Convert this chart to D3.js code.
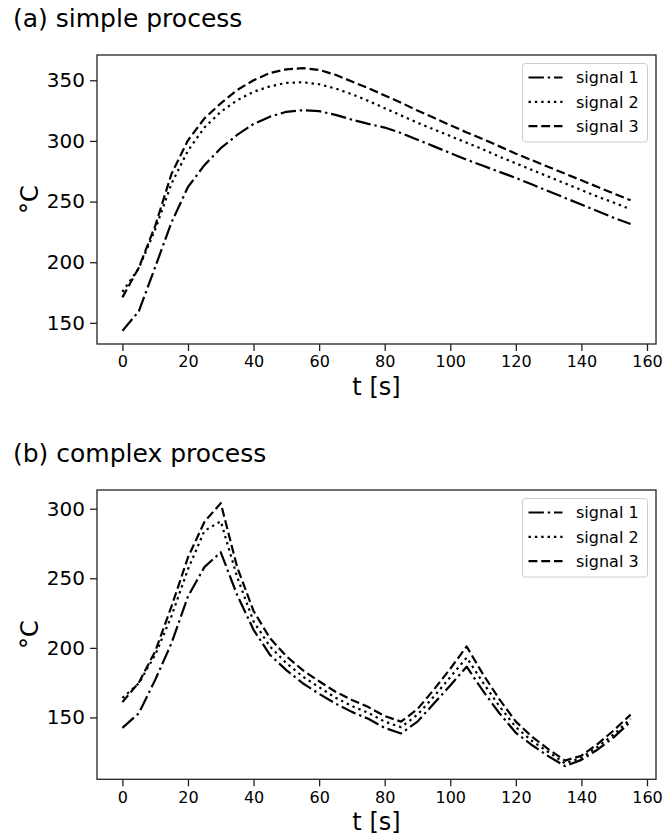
<!DOCTYPE html>
<html><head><meta charset="utf-8">
<script src="https://cdn.jsdelivr.net/npm/d3@7"></script>
<style>
html,body{margin:0;padding:0;background:#fff;}
svg{display:block;font-family:"DejaVu Sans",sans-serif;}
</style></head>
<body>
<svg id="chart" width="664" height="838"></svg>
<script>
// ---- data ----
const time = [0,5,10,15,20,25,30,35,40,45,50,55,60,65,70,75,80,85,90,95,100,105,110,115,120,125,130,135,140,145,150,155];
const seriesNames = ["signal 1","signal 2","signal 3"];
const xTicks = [0,20,40,60,80,100,120,140,160];

const simple1 = [143.4,159.5,196,233,262,280,294,305,314,320,324,325.3,324.5,321.5,317.5,314,311,306.5,301,295.5,290,284.5,279.5,274.5,269.5,264,258.5,253,247.5,242,236.5,231.5];
const simple2 = [175.5,195,227,265,292,311,324,333.5,340.5,345,347.8,348.4,346.7,343.2,338.5,333,327,321,315,309.5,304,298.5,293,287,281.5,276,270.5,265,259.5,254,249,243.6];
const simple3 = [171,195.5,230,273,300.5,318.5,331,342,350,356,359,360,358.5,354.5,349,343.5,337.5,331.5,325,319,313,307,301.5,295.5,289.5,284,278.5,273,267.5,262,256.5,251];
const simpleYTicks = [150,200,250,300,350];

const complex1 = [142.5,153,177,203.5,237,258,268.7,238,213,195,184,174.6,167,160,154,149,142.5,138.5,147,160,173,186.5,169,153,139,130,122,115,119.5,127,136,147];
const complex2 = [164,174.5,195,223,256.5,284,291,251,219,201,189,179.4,171.7,164.2,158.2,153.3,147,143,152,165,179,193,175,158,143,133,125,117,121,129,138,149];
const complex3 = [161,175,197.5,230,265,290.5,304,258,226.5,207,194,184,176,168.5,162.5,157.5,151,147,156,170,185,201,181,163,147,136,127,119,122.5,131,141,152];
const complexYTicks = [150,200,250,300];

// ---- drawing ----
const svg = d3.select("#chart");
const FONT = "DejaVu Sans, sans-serif";
const dashes = ["15.4,3.84,2.4,3.84", "2.4,3.96", "8.9,3.84"];
const lw = 2.2;

function panel(cfg){
  const {title, titleY, top, bottom, yTicks, series} = cfg;
  const left = 97, right = 656;
  const g = svg.append("g");
  const tMin = d3.min(time), tMax = d3.max(time);
  const tPad = (tMax - tMin) * 0.05;
  const x = d3.scaleLinear().domain([tMin - tPad, tMax + tPad]).range([left, right]);
  const all = series.flat();
  const vMin = d3.min(all), vMax = d3.max(all);
  const vPad = (vMax - vMin) * 0.05;
  const y = d3.scaleLinear().domain([vMin - vPad, vMax + vPad]).range([bottom, top]);

  // title
  g.append("text").attr("x", 13).attr("y", titleY).attr("font-size", 25)
    .attr("fill", "#000").text(title);

  // lines
  const line = d3.line().x((d,i)=>x(time[i])).y(d=>y(d));
  series.forEach((s,k)=>{
    g.append("path").datum(s).attr("d", line).attr("fill","none")
      .attr("stroke","#000").attr("stroke-width", lw)
      .attr("stroke-dasharray", dashes[k]).attr("stroke-linejoin","round");
  });

  // axes
  const xa = g.append("g").attr("transform", `translate(0,${bottom})`)
    .call(d3.axisBottom(x).tickValues(xTicks).tickSize(7).tickPadding(5).tickFormat(d3.format("d")));
  const ya = g.append("g").attr("transform", `translate(${left},0)`)
    .call(d3.axisLeft(y).tickValues(yTicks).tickSize(7).tickPadding(5).tickFormat(d3.format("d")));
  [xa, ya].forEach(a=>{
    a.select(".domain").remove();
    a.selectAll(".tick line").attr("stroke","#222").attr("stroke-width",1.3);
    a.selectAll(".tick text").attr("font-family",FONT).attr("fill","#000");
  });
  xa.selectAll(".tick text").attr("font-size",16);
  ya.selectAll(".tick text").attr("font-size",20);
  // frame
  g.append("rect").attr("x", left).attr("y", top).attr("width", right-left).attr("height", bottom-top)
    .attr("fill","none").attr("stroke","#222").attr("stroke-width",1.3);

  // axis labels
  g.append("text").attr("x", (left+right)/2).attr("y", bottom + 51).attr("text-anchor","middle")
    .attr("font-size",24).attr("fill","#000").text("t [s]");
  g.append("text").attr("transform", `translate(38,${(top+bottom)/2}) rotate(-90)`)
    .attr("text-anchor","middle").attr("font-size",24).attr("fill","#000").text("°C");

  // legend
  const lx = 522.5, ly = top + 8.5, lwid = 125, lh = 78.5;
  const lg = g.append("g");
  lg.append("rect").attr("x", lx).attr("y", ly).attr("width", lwid).attr("height", lh)
    .attr("rx", 3).attr("fill","#fff").attr("fill-opacity",0.8).attr("stroke","#ccc").attr("stroke-width",1);
  seriesNames.forEach((n,k)=>{
    const cy = ly + 14 + k*24.3;
    lg.append("line").attr("x1", lx+6).attr("x2", lx+40).attr("y1", cy).attr("y2", cy)
      .attr("stroke","#000").attr("stroke-width", lw).attr("stroke-dasharray", dashes[k]);
    lg.append("text").attr("x", lx+53.5).attr("y", cy).attr("dy","0.36em")
      .attr("font-size",16).attr("fill","#000").text(n);
  });
}

panel({title:"(a) simple process", titleY:27, top:55, bottom:344, yTicks:simpleYTicks,
       series:[simple1, simple2, simple3]});
panel({title:"(b) complex process", titleY:461.5, top:490, bottom:779.3, yTicks:complexYTicks,
       series:[complex1, complex2, complex3]});
</script>
</body></html>
